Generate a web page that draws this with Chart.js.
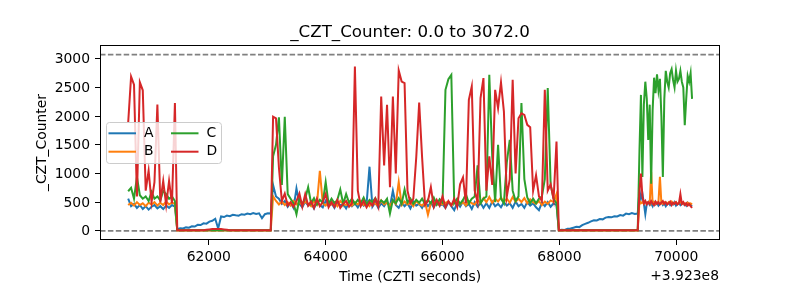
<!DOCTYPE html>
<html>
<head>
<meta charset="utf-8">
<script src="https://cdn.jsdelivr.net/npm/chart.js@4"></script>
<style>
  html, body { margin: 0; padding: 0; background: #fff; }
</style>
</head>
<body>
<canvas id="chart" width="800" height="300"></canvas>
<script>
// Tiempos en segundos CZTI, sin el desplazamiento +3.923e8 que se muestra junto al eje
const times = [
  // activo
  60620, 60670, 60720, 60770, 60820, 60870, 60920, 60970, 61020, 61070,
  61120, 61170, 61220, 61270, 61320, 61370, 61420,
  // caída
  61460, 61510, 61560, 61610, 61660, 61710, 61760, 61810, 61860, 61910,
  61960, 62010, 62060, 62110, 62160, 62210, 62260, 62310, 62360, 62410,
  62460, 62510, 62560, 62610, 62660, 62710, 62760, 62810, 62860, 62910,
  62960, 63010, 63060,
  // activo
  63100, 63150, 63200, 63250, 63300, 63350, 63400, 63450, 63500, 63550,
  63600, 63650, 63700, 63750, 63800, 63850, 63900, 63950, 64000, 64050,
  64100, 64150, 64200, 64250, 64300, 64350, 64400, 64450, 64500, 64550,
  64600, 64650, 64700, 64750, 64800, 64850, 64900, 64950, 65000, 65050,
  65100, 65150, 65200, 65250, 65300, 65350, 65400, 65450, 65500, 65550,
  65600, 65650, 65700, 65750, 65800, 65850, 65900, 65950, 66000, 66050,
  66100, 66150, 66200, 66250, 66300, 66350, 66400, 66450, 66500, 66550,
  66600, 66650, 66700, 66750, 66800, 66850, 66900, 66950, 67000, 67050,
  67100, 67150, 67200, 67250, 67300, 67350, 67400, 67450, 67500, 67550,
  67600, 67650, 67700, 67750, 67800, 67850, 67900, 67950,
  // caída
  67990, 68040, 68090, 68140, 68190, 68240, 68290, 68340, 68390, 68440,
  68490, 68540, 68590, 68640, 68690, 68740, 68790, 68840, 68890, 68940,
  68990, 69040, 69090, 69140, 69190, 69240, 69290, 69340,
  // activo
  69370, 69395, 69420, 69445, 69470, 69495, 69520, 69545, 69570, 69595,
  69620, 69645, 69670, 69695, 69720, 69745, 69770, 69795, 69820, 69845,
  69870, 69895, 69920, 69945, 69970, 69995, 70020, 70045, 70070, 70095,
  70120, 70145, 70170, 70195, 70220, 70245, 70270
];

const counterA = [
  560, 430, 470, 400, 450, 380, 430, 370, 420, 450, 390, 430, 380, 440, 400, 450, 420,
  30, 45, 40, 60, 55, 80, 75, 105, 100, 130, 125, 160, 175, 210, 40, 250, 240, 265, 255, 280,
  270, 265, 290, 280, 300, 290, 310, 295, 305, 220, 290, 305, 300,
  800, 600, 560, 470, 520, 420, 490, 400, 740, 470,
  410, 510, 440, 490, 390, 500, 450, 410, 520, 430,
  480, 400, 510, 440, 470, 390, 500, 430, 480, 410,
  500, 440, 470, 1118, 420, 500, 400, 480, 430, 510,
  420, 700, 450, 400, 500, 430, 480, 390, 510, 440,
  470, 400, 500, 430, 490, 410, 520, 440, 460, 400,
  500, 430, 360, 490, 420, 510, 430, 470, 380, 500,
  420, 490, 400, 480, 400, 510, 430, 470, 410, 500,
  440, 480, 400, 510, 430, 470, 400, 500, 440, 480,
  410, 360, 490, 430, 500, 420, 480, 450,
  10, 20, 15, 35, 40, 55, 70, 65, 100, 120, 140, 165, 185, 180, 205, 200, 230, 240, 235, 255,
  250, 275, 265, 300, 290, 310, 295, 300,
  700, 560, 650, 480, 290, 470, 500, 450, 480, 430, 500, 460, 490, 440, 470, 500, 450, 480, 430,
  470, 490, 450, 480, 460, 500, 440, 470, 490, 450, 480, 460, 470, 440, 490, 460, 450, 430
];

const counterB = [
  450, 490, 440, 500, 450, 480, 430, 490, 460, 500, 440, 490, 450, 510, 460, 490, 470,
  5, 5, 5, 5, 5, 5, 5, 5, 5, 5, 5, 5, 5, 5, 5, 5, 5, 5, 5, 5,
  5, 5, 5, 5, 5, 5, 5, 5, 5, 5, 5, 5, 5,
  600, 520, 460, 510, 450, 500, 440, 520, 460, 500,
  450, 510, 470, 430, 520, 460, 1048, 480, 440, 510,
  460, 500, 430, 520, 470, 450, 510, 440, 500, 460,
  520, 450, 490, 430, 510, 470, 440, 530, 460, 490,
  440, 520, 470, 850, 450, 510, 460, 490, 430, 520,
  470, 440, 500, 280, 480, 520, 450, 500, 460, 490,
  510, 450, 490, 530, 460, 500, 440, 520, 480, 460,
  540, 480, 570, 500, 590, 490, 560, 510, 580, 500,
  560, 490, 590, 510, 560, 500, 570, 480, 550, 500,
  470, 520, 450, 510, 470, 530, 500, 640,
  5, 5, 5, 5, 5, 5, 5, 5, 5, 5, 5, 5, 5, 5, 5, 5, 5, 5, 5, 5,
  5, 5, 5, 5, 5, 5, 5, 5,
  520, 480, 500, 470, 510, 480, 500, 470, 1030, 480, 500, 470, 490, 510, 940, 480, 470, 500, 490,
  470, 500, 480, 510, 470, 490, 500, 470, 480, 500, 490, 470, 480, 460, 490, 470, 480, 460
];

const counterC = [
  690, 750, 560, 940, 620, 560, 600, 520, 680, 560, 600, 530, 700, 640, 560, 600, 520,
  8, 8, 8, 8, 8, 8, 8, 8, 8, 8, 8, 8, 8, 8, 8, 8, 8, 8, 8, 8,
  8, 8, 8, 8, 8, 8, 8, 8, 8, 8, 8, 8, 8,
  1300, 1500, 1980, 800, 1990, 640, 560, 480, 290, 560,
  470, 560, 760, 480, 570, 460, 540, 490, 850, 470,
  560, 480, 540, 720, 470, 640, 490, 560, 470, 540,
  480, 580, 460, 540, 500, 570, 470, 530, 490, 560,
  300, 540, 480, 570, 470, 720, 490, 560, 470, 540,
  490, 560, 470, 540, 480, 580, 460, 550, 490, 2458,
  2645, 2720, 480, 560, 470, 540, 640, 480, 560, 600,
  1140, 480, 560, 600, 2720, 1300, 500, 1500, 560, 480,
  1200, 1585, 700, 520, 600, 2226, 900, 580, 480, 560,
  480, 560, 600, 900, 2488, 800, 560, 480,
  8, 8, 8, 8, 8, 8, 8, 8, 8, 8, 8, 8, 8, 8, 8, 8, 8, 8, 8, 8,
  8, 8, 8, 8, 8, 8, 8, 8,
  1400, 2370, 940, 2200, 2600, 2300, 1585, 2200, 820, 2100, 2670, 2400, 2730, 2450, 2650, 2000, 940, 2300, 2790,
  2600, 2500, 2750, 2820, 2630, 2500, 2790, 2600, 2650, 2790, 2600, 2500, 1840, 2300, 2700, 2600, 2750, 2300
];

const counterD = [
  1880, 2690, 2550, 600, 2590, 2450, 700, 1050, 500, 850, 2200, 500, 870, 450, 870, 480, 2230,
  12, 12, 12, 12, 12, 12, 12, 12, 12, 12, 20, 25, 30, 30, 30, 30, 25, 20, 12, 12,
  12, 12, 12, 12, 12, 12, 12, 12, 12, 12, 12, 12, 12,
  1990, 1960, 1100, 520, 650, 440, 500, 420, 520, 650,
  420, 640, 440, 510, 400, 560, 430, 500, 640, 410,
  500, 420, 540, 400, 470, 520, 420, 480, 2865, 700,
  430, 520, 410, 500, 440, 560, 420, 2341, 1140, 2196,
  760, 2341, 1000, 2795, 2603, 2575, 700, 480, 560, 1282,
  2236, 1282, 450, 520, 760, 420, 540, 440, 600, 410,
  520, 440, 560, 420, 810, 930, 480, 2283, 2516, 700,
  500, 2313, 2662, 700, 1300, 800, 2458, 2138, 2586, 2079,
  600, 900, 2633, 1000, 1964, 2050, 2021, 1847, 1806, 700,
  970, 600, 520, 2458, 700, 810, 550, 1555,
  10, 10, 10, 10, 10, 10, 10, 10, 10, 10, 10, 10, 10, 10, 10, 10, 10, 10, 10, 10,
  10, 10, 10, 10, 10, 10, 10, 10,
  700, 1000, 600, 480, 520, 460, 500, 470, 520, 480, 450, 510, 470, 500, 460, 490, 520, 470, 500,
  460, 480, 510, 450, 490, 470, 500, 460, 480, 640, 470, 500, 450, 480, 440, 470, 430, 400
];

const seriesNames = ["A", "B", "C", "D"];
const seriesColors = ["#1f77b4", "#ff7f0e", "#2ca02c", "#d62728"];
const limitLines = [0, 3072];   // rango del contador
const xTicks = [62000, 64000, 66000, 68000, 70000];
const yTicks = [0, 500, 1000, 1500, 2000, 2500, 3000];
const xMin = 60138, xMax = 70748;
const yMin = -160, yMax = 3240;
const offsetText = "+3.923e8";
const titulo = "_CZT_Counter: 0.0 to 3072.0";

const FONT = "DejaVu Sans";
const counters = [counterA, counterB, counterC, counterD];

const datasets = counters.map((vals, i) => ({
    label: seriesNames[i],
    data: times.map((t, j) => ({ x: t, y: vals[j] })),
    borderColor: seriesColors[i],
    backgroundColor: seriesColors[i],
    borderWidth: 2,
    pointRadius: 0,
    tension: 0,
    fill: false,
    order: 4 - i, // D queda arriba, como en matplotlib
}));

limitLines.forEach((v) => {
    datasets.push({
        label: "limit " + v,
        data: [{ x: xMin, y: v }, { x: xMax, y: v }],
        borderColor: "#808080",
        borderWidth: 1.8,
        borderDash: [5.5, 2.4],
        pointRadius: 0,
        fill: false,
        order: 10,
    });
});

// Textos, marco y leyenda al estilo matplotlib
const marco = {
    id: "marco",
    afterDraw(chart) {
        const { ctx, chartArea: a } = chart;
        ctx.save();
        ctx.strokeStyle = "#000";
        ctx.lineWidth = 1;
        ctx.strokeRect(a.left + 0.5, a.top + 0.5, a.right - a.left - 1, a.bottom - a.top - 1);

        ctx.fillStyle = "#000";
        ctx.font = `16.7px "${FONT}"`;
        ctx.textAlign = "center";
        ctx.textBaseline = "alphabetic";
        ctx.fillText(titulo, (a.left + a.right) / 2, a.top - 8.5);

        ctx.font = `13.9px "${FONT}"`;
        ctx.fillText("Time (CZTI seconds)", (a.left + a.right) / 2, 281);
        ctx.textAlign = "right";
        ctx.fillText(offsetText, a.right - 1, 279.5);

        ctx.save();
        ctx.translate(46, (a.top + a.bottom) / 2);
        ctx.rotate(-Math.PI / 2);
        ctx.textAlign = "center";
        ctx.fillText("_CZT_Counter", 0, 0);
        ctx.restore();

        // Leyenda en dos columnas
        const lx = 106, ly = 122, lw = 115, lh = 41;
        ctx.beginPath();
        ctx.roundRect(lx + 0.5, ly + 0.5, lw, lh, 3);
        ctx.fillStyle = "rgba(255,255,255,0.8)";
        ctx.fill();
        ctx.strokeStyle = "#cccccc";
        ctx.lineWidth = 1;
        ctx.stroke();

        ctx.font = `13.9px "${FONT}"`;
        ctx.textAlign = "left";
        ctx.textBaseline = "middle";
        const cols = [108.5, 171];
        const rows = [133.3, 151.7];
        seriesNames.forEach((name, i) => {
            const cx = cols[Math.floor(i / 2)];
            const cy = rows[i % 2];
            ctx.strokeStyle = seriesColors[i];
            ctx.lineWidth = 2;
            ctx.beginPath();
            ctx.moveTo(cx, cy);
            ctx.lineTo(cx + 27.5, cy);
            ctx.stroke();
            ctx.fillStyle = "#000";
            ctx.fillText(name, cx + 35.5, cy);
        });
        ctx.restore();
    },
};

new Chart(document.getElementById("chart"), {
    type: "line",
    data: { datasets },
    options: {
        responsive: false,
        animation: false,
        devicePixelRatio: 1,
        layout: { padding: { left: 0, right: 80, top: 45, bottom: 0 } },
        plugins: {
            legend: { display: false },
            tooltip: { enabled: false },
            title: { display: false },
        },
        scales: {
            x: {
                type: "linear",
                min: xMin,
                max: xMax,
                afterBuildTicks: (s) => { s.ticks = xTicks.map((v) => ({ value: v })); },
                afterFit: (s) => { s.height = 60; },
                ticks: {
                    callback: (v) => String(v),
                    color: "#000",
                    font: { family: FONT, size: 13.9 },
                    padding: 4,
                    maxRotation: 0,
                    autoSkip: false,
                },
                grid: { drawOnChartArea: false, tickLength: 5, color: "#000", tickWidth: 1 },
                border: { display: false },
            },
            y: {
                type: "linear",
                min: yMin,
                max: yMax,
                afterBuildTicks: (s) => { s.ticks = yTicks.map((v) => ({ value: v })); },
                afterFit: (s) => { s.width = 100; },
                ticks: {
                    callback: (v) => String(v),
                    color: "#000",
                    font: { family: FONT, size: 13.9 },
                    padding: 5,
                    labelOffset: 1,
                    autoSkip: false,
                },
                grid: { drawOnChartArea: false, tickLength: 5, color: "#000", tickWidth: 1 },
                border: { display: false },
            },
        },
    },
    plugins: [marco],
});
</script>
</body>
</html>
